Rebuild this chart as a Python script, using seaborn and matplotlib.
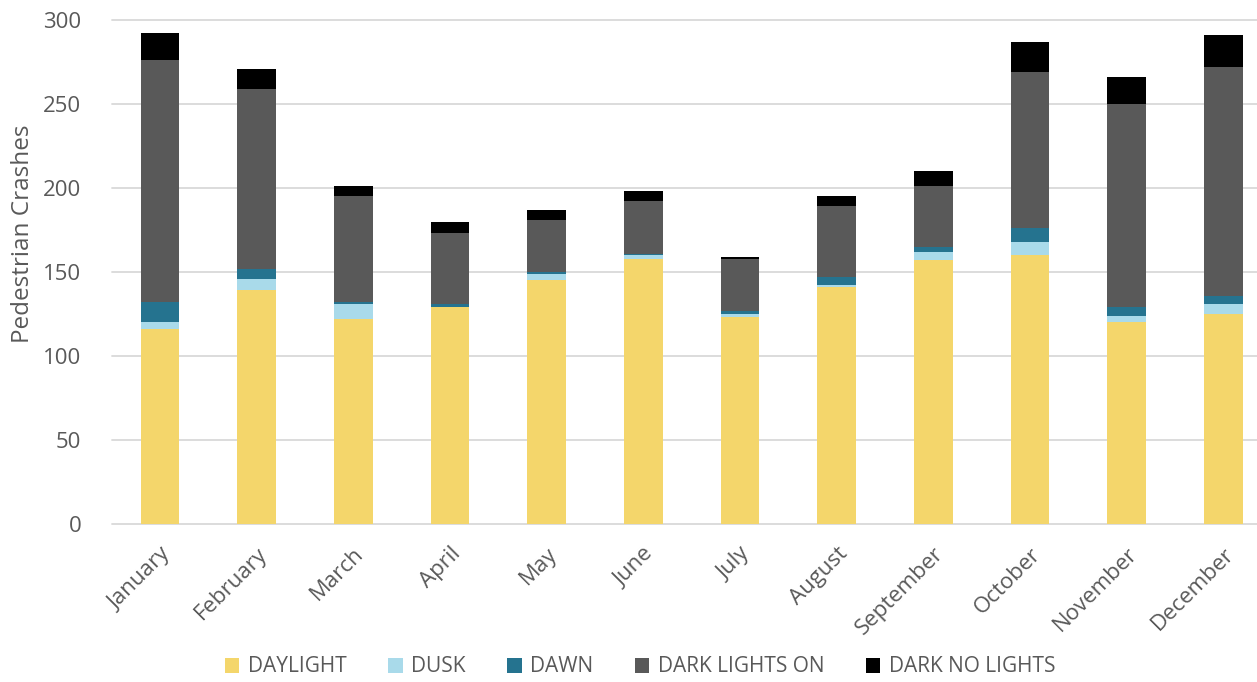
import matplotlib
matplotlib.use("Agg")
import matplotlib.pyplot as plt
import seaborn as sns
import pandas as pd
import numpy as np
from matplotlib.patches import Patch

months = ["January", "February", "March", "April", "May", "June", "July",
          "August", "September", "October", "November", "December"]
daylight = [116, 139, 122, 129, 145, 158, 123, 141, 157, 160, 120, 125]
dusk = [4, 7, 9, 0, 4, 2, 2, 1, 5, 8, 4, 6]
dawn = [12, 6, 1, 2, 1, 1, 2, 5, 3, 8, 5, 5]
dark_lights_on = [144, 107, 63, 42, 31, 31, 31, 42, 36, 93, 121, 136]
dark_no_lights = [16, 12, 6, 7, 6, 6, 1, 6, 9, 18, 16, 19]

series_names = ["DAYLIGHT", "DUSK", "DAWN", "DARK LIGHTS ON", "DARK NO LIGHTS"]
series = [daylight, dusk, dawn, dark_lights_on, dark_no_lights]
colors = ["#F4D66B", "#A9DAEA", "#25738F", "#595959", "#000000"]
yticks = [0, 50, 100, 150, 200, 250, 300]

sns.set_theme(style="white")
plt.rcParams["font.family"] = ["Open Sans", "DejaVu Sans"]

fig = plt.figure(figsize=(12.57, 6.82), dpi=100)
W, H = 1257, 682
left_px, right_px = 111.7, 1271.7
top_px, bottom_px = 20, 524
ax = fig.add_axes([left_px / W, (H - bottom_px) / H,
                   (right_px - left_px) / W, (bottom_px - top_px) / H])

cum = np.cumsum(np.array(series, dtype=float), axis=0)
# draw cumulative bars from top series to bottom so lower segments overlay
for i in range(len(series) - 1, -1, -1):
    df = pd.DataFrame({"month": months, "value": cum[i]})
    sns.barplot(data=df, x="month", y="value", order=months, color=colors[i],
                width=0.4, saturation=1, ax=ax, edgecolor="none", linewidth=0,
                zorder=2 + (len(series) - i))

ax.set_ylim(0, 300)
ax.set_xlim(-0.5, 11.5)
ax.set_yticks(yticks)
ax.yaxis.grid(False)
ax.xaxis.grid(False)
for s in ax.spines.values():
    s.set_visible(False)
for y in yticks:
    ax.axhline(y, color="#d9d9d9", linewidth=1.3, zorder=0, clip_on=False)

ax.tick_params(axis="y", length=0, pad=22, labelsize=16, labelcolor="#595959")
ax.tick_params(axis="x", length=0, pad=14, labelsize=16, labelcolor="#595959")
ax.set_xlabel("")
ax.set_ylabel("Pedestrian Crashes", fontsize=17.5, color="#595959")
ax.yaxis.set_label_coords(-(left_px - 35) / (right_px - left_px), (bottom_px - 234) / (bottom_px - top_px))
for lbl in ax.get_xticklabels():
    lbl.set_rotation(45)
    lbl.set_ha("right")
    lbl.set_rotation_mode("anchor")

handles = [Patch(facecolor=c, edgecolor="none", label=n) for c, n in zip(colors, series_names)]
fig.legend(handles=handles, loc="center", bbox_to_anchor=(640 / W, 1 - 667 / H),
           ncol=5, frameon=False, fontsize=15, labelcolor="#595959",
           handlelength=0.7, handleheight=0.7, handletextpad=0.4, columnspacing=2.0)

fig.savefig("out.png", dpi=100)
